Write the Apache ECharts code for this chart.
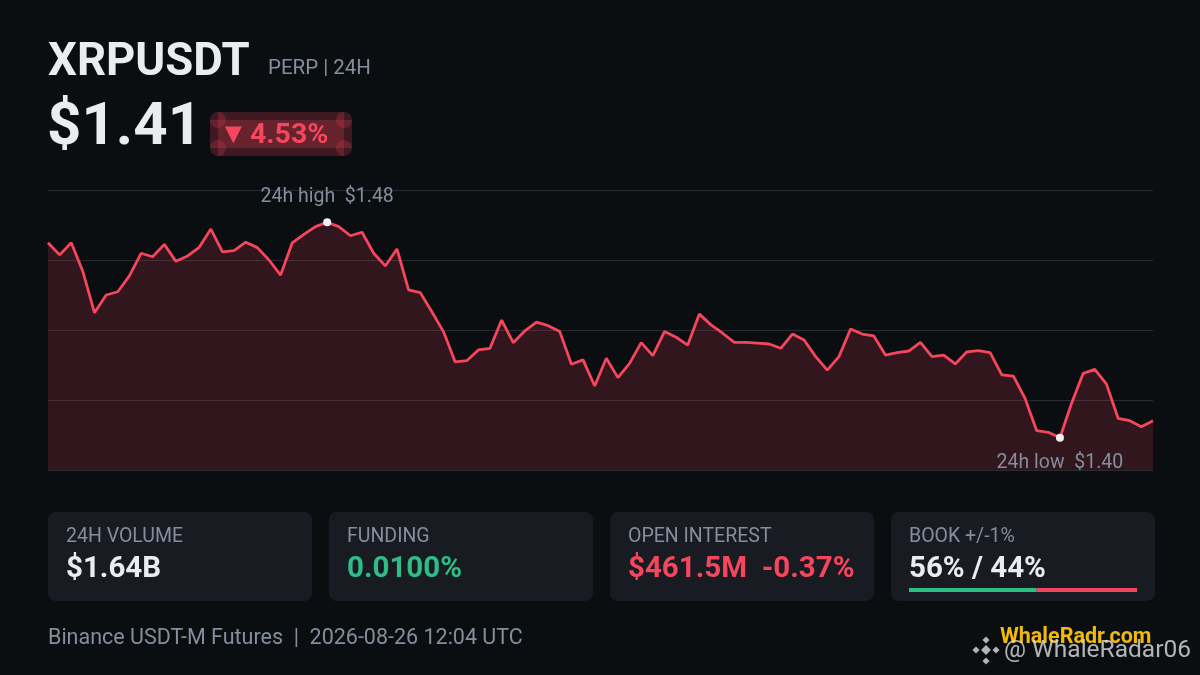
<!DOCTYPE html>
<html style="height: 100%">
<head>
	<meta charset="utf-8">
	<title>XRPUSDT</title>
	<script type="text/javascript" src="https://cdn.jsdelivr.net/npm/echarts@6/dist/echarts.min.js"></script>
	<script type="text/javascript">
		// 24h of 15 min closes
		var prices=[1.4724,1.4679,1.4724,1.4617,1.4464,1.4530,1.4542,1.4601,1.4685,1.4672,
			1.4718,1.4655,1.4675,1.4707,1.4775,1.4690,1.4695,1.4726,1.4706,1.4660,
			1.4604,1.4724,1.4755,1.4784,1.4800,1.4784,1.4750,1.4763,1.4685,1.4638,
			1.4701,1.4549,1.4539,1.4468,1.4394,1.4282,1.4286,1.4326,1.4332,1.4437,
			1.4353,1.4397,1.4429,1.4416,1.4394,1.4273,1.4289,1.4192,1.4295,1.4223,
			1.4276,1.4353,1.4305,1.4394,1.4373,1.4344,1.4459,1.4419,1.4388,1.4354,
			1.4354,1.4351,1.4348,1.4332,1.4385,1.4363,1.4301,1.4251,1.4301,1.4404,
			1.4385,1.4378,1.4307,1.4316,1.4322,1.4354,1.4301,1.4307,1.4274,1.4319,
			1.4323,1.4316,1.4233,1.4229,1.4146,1.4026,1.4020,1.4000,1.4128,1.4239,
			1.4254,1.4199,1.4072,1.4063,1.4041,1.4063];
		var highIdx=24, lowIdx=87;
		var highLabel='24h high  $1.48';
		var lowLabel='24h low  $1.40';

		var cardLabels=['24H VOLUME','FUNDING','OPEN INTEREST','BOOK +/-1%'];
		var cardValues=['$1.64B','0.0100%','$461.5M  -0.37%','56% / 44%'];
		var cardColors=['#eaecef','#2ebd85','#f6465d','#eaecef'];
		var bookBid=56, bookAsk=44;

		var times=[];
		for(var i=0;i<prices.length;i++){
			var m=(12*60+4)-(prices.length-1-i)*15;
			if(m<0) m+=24*60;
			var hh=Math.floor(m/60), mm=m%60;
			times.push((hh<10?'0':'')+hh+':'+(mm<10?'0':'')+mm);
		}

		window.onload=function(){
			var dom=document.getElementById('container');
			var myChart=echarts.init(dom,null,{renderer:'canvas'});
			var F='Roboto, "Noto Sans", sans-serif';
			var red='#f6465d', grey='#848e9c';

			var g=[];
			// header
			g.push({type:'text',style:{x:48,y:64,text:'XRPUSDT',font:'bold 45.5px '+F,fill:'#eaecef',verticalAlign:'middle'}});
			g.push({type:'text',style:{x:268,y:69,text:'PERP | 24H',font:'20.5px '+F,fill:grey,verticalAlign:'middle'}});
			g.push({type:'text',style:{x:47,y:129,text:'$1.41',font:'bold 60px '+F,fill:'#eaecef',verticalAlign:'middle'}});
			// badge
			var bf='rgba(246,70,93,0.22)';
			g.push({type:'rect',shape:{x:210,y:120,width:142,height:28},style:{fill:bf}});
			g.push({type:'rect',shape:{x:218,y:112,width:126,height:44},style:{fill:bf}});
			[[218,120],[344,120],[218,148],[344,148]].forEach(function(c){
				g.push({type:'circle',shape:{cx:c[0],cy:c[1],r:8},style:{fill:bf}});
			});
			g.push({type:'text',style:{x:219,y:136,text:'▼',font:'bold 29px '+F,fill:red,verticalAlign:'middle'}});
			g.push({type:'text',style:{x:250,y:136,text:'4.53%',font:'bold 28.5px '+F,fill:red,verticalAlign:'middle'}});

			// cards
			for(var k=0;k<4;k++){
				var cx=48+k*281;
				g.push({type:'rect',shape:{x:cx,y:512,width:264,height:89,r:8},style:{fill:'#181b22'}});
				g.push({type:'text',style:{x:cx+18,y:537,text:cardLabels[k],font:'19.5px '+F,fill:grey,verticalAlign:'middle'}});
				g.push({type:'text',style:{x:cx+18,y:570,text:cardValues[k],font:'bold 29.5px '+F,fill:cardColors[k],verticalAlign:'middle'}});
			}
			var bx=909, bw=228;
			g.push({type:'rect',shape:{x:bx,y:588,width:bw*bookBid/100,height:4},style:{fill:'#2ebd85'}});
			g.push({type:'rect',shape:{x:bx+bw*bookBid/100,y:588,width:bw*bookAsk/100,height:4},style:{fill:red}});

			// footer
			g.push({type:'text',style:{x:48,y:639,text:'Binance USDT-M Futures  |  2026-08-26 12:04 UTC',font:'21.5px '+F,fill:grey,verticalAlign:'middle'}});
			g.push({type:'text',style:{x:1000,y:638,text:'WhaleRadr.com',font:'bold 21.5px '+F,fill:'#f0b90b',verticalAlign:'middle'}});
			// watermark
			var wc='rgba(220,222,226,0.8)';
			[[986,640],[986,661],[976,650],[996,650],[986,650]].forEach(function(p,j){
				var s=j==4?7:5;
				g.push({type:'rect',shape:{x:-s/2,y:-s/2,width:s,height:s},x:p[0],y:p[1],rotation:Math.PI/4,style:{fill:wc}});
			});
			g.push({type:'text',style:{x:1004,y:651,text:'@ WhaleRadar06',font:'24.5px '+F,fill:wc,verticalAlign:'middle'}});

			var option={
				backgroundColor:'#0b0e11',
				animation:false,
				grid:{left:48,right:47,top:190,bottom:205},
				xAxis:{type:'category',data:times,boundaryGap:false,show:false},
				yAxis:[
					{type:'value',min:1.388,max:1.492,show:false,splitLine:{show:false}},
					{type:'value',min:0,max:4,interval:1,axisLabel:{show:false},axisLine:{show:false},axisTick:{show:false},
						splitLine:{show:true,lineStyle:{color:'#282b31',width:1}}}
				],
				graphic:g,
				series:[{
					type:'line',
					data:prices,
					yAxisIndex:0,
					symbol:'none',
					lineStyle:{color:red,width:2.8},
					areaStyle:{color:'rgba(246,70,93,0.16)',opacity:1},
					markPoint:{
						symbol:'circle',
						symbolSize:8,
						itemStyle:{color:'#eef0f3'},
						data:[
							{coord:[highIdx,prices[highIdx]],label:{show:true,position:'top',distance:11,formatter:highLabel,color:grey,fontSize:19.5,fontFamily:F}},
							{coord:[lowIdx,prices[lowIdx]],label:{show:true,position:'bottom',distance:11,formatter:lowLabel,color:grey,fontSize:19.5,fontFamily:F}}
						]
					}
				}]
			};
			myChart.setOption(option);
		};
	</script>
</head>
<body style="height: 100%; margin: 0; background: #0b0e11">
<div id="container" style="width: 1200px; height: 675px"></div>
</body>
</html>
